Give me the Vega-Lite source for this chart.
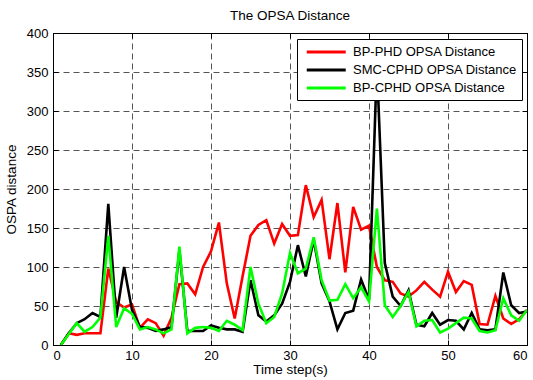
{
  "$schema": "https://vega.github.io/schema/vega-lite/v6.json",
  "width": 474,
  "height": 312,
  "autosize": {"type": "none"},
  "padding": {"left": 53, "top": 33, "right": 6, "bottom": 35},
  "background": "white",
  "title": {"text": "The OPSA Distance", "font": "Liberation Sans", "fontSize": 13.5, "fontWeight": "normal", "color": "black", "anchor": "middle", "offset": 5},
  "config": {
    "view": {"stroke": "black", "strokeWidth": 1},
    "axis": {"labelFont": "Liberation Sans", "labelFontSize": 13, "labelColor": "black", "titleFont": "Liberation Sans", "titleFontSize": 13.5, "titleFontWeight": "normal", "titleColor": "black", "domainColor": "black", "tickColor": "black", "gridColor": "#555555", "gridDash": [6, 4], "gridWidth": 1, "gridOpacity": 1}
  },
  "datasets": {
    "d": [
      {"t": 1, "v": 0, "s": "BP-PHD OPSA Distance"},
      {"t": 2, "v": 15, "s": "BP-PHD OPSA Distance"},
      {"t": 3, "v": 13, "s": "BP-PHD OPSA Distance"},
      {"t": 4, "v": 15, "s": "BP-PHD OPSA Distance"},
      {"t": 5, "v": 15, "s": "BP-PHD OPSA Distance"},
      {"t": 6, "v": 15, "s": "BP-PHD OPSA Distance"},
      {"t": 7, "v": 98, "s": "BP-PHD OPSA Distance"},
      {"t": 8, "v": 55, "s": "BP-PHD OPSA Distance"},
      {"t": 9, "v": 48, "s": "BP-PHD OPSA Distance"},
      {"t": 10, "v": 52, "s": "BP-PHD OPSA Distance"},
      {"t": 11, "v": 22, "s": "BP-PHD OPSA Distance"},
      {"t": 12, "v": 33, "s": "BP-PHD OPSA Distance"},
      {"t": 13, "v": 28, "s": "BP-PHD OPSA Distance"},
      {"t": 14, "v": 12, "s": "BP-PHD OPSA Distance"},
      {"t": 15, "v": 35, "s": "BP-PHD OPSA Distance"},
      {"t": 16, "v": 78, "s": "BP-PHD OPSA Distance"},
      {"t": 17, "v": 79, "s": "BP-PHD OPSA Distance"},
      {"t": 18, "v": 65, "s": "BP-PHD OPSA Distance"},
      {"t": 19, "v": 100, "s": "BP-PHD OPSA Distance"},
      {"t": 20, "v": 120, "s": "BP-PHD OPSA Distance"},
      {"t": 21, "v": 157, "s": "BP-PHD OPSA Distance"},
      {"t": 22, "v": 79, "s": "BP-PHD OPSA Distance"},
      {"t": 23, "v": 34, "s": "BP-PHD OPSA Distance"},
      {"t": 24, "v": 88, "s": "BP-PHD OPSA Distance"},
      {"t": 25, "v": 140, "s": "BP-PHD OPSA Distance"},
      {"t": 26, "v": 154, "s": "BP-PHD OPSA Distance"},
      {"t": 27, "v": 160, "s": "BP-PHD OPSA Distance"},
      {"t": 28, "v": 130, "s": "BP-PHD OPSA Distance"},
      {"t": 29, "v": 155, "s": "BP-PHD OPSA Distance"},
      {"t": 30, "v": 140, "s": "BP-PHD OPSA Distance"},
      {"t": 31, "v": 141, "s": "BP-PHD OPSA Distance"},
      {"t": 32, "v": 205, "s": "BP-PHD OPSA Distance"},
      {"t": 33, "v": 164, "s": "BP-PHD OPSA Distance"},
      {"t": 34, "v": 186, "s": "BP-PHD OPSA Distance"},
      {"t": 35, "v": 110, "s": "BP-PHD OPSA Distance"},
      {"t": 36, "v": 182, "s": "BP-PHD OPSA Distance"},
      {"t": 37, "v": 93, "s": "BP-PHD OPSA Distance"},
      {"t": 38, "v": 177, "s": "BP-PHD OPSA Distance"},
      {"t": 39, "v": 148, "s": "BP-PHD OPSA Distance"},
      {"t": 40, "v": 153, "s": "BP-PHD OPSA Distance"},
      {"t": 41, "v": 100, "s": "BP-PHD OPSA Distance"},
      {"t": 42, "v": 83, "s": "BP-PHD OPSA Distance"},
      {"t": 43, "v": 81, "s": "BP-PHD OPSA Distance"},
      {"t": 44, "v": 66, "s": "BP-PHD OPSA Distance"},
      {"t": 45, "v": 62, "s": "BP-PHD OPSA Distance"},
      {"t": 46, "v": 70, "s": "BP-PHD OPSA Distance"},
      {"t": 47, "v": 81, "s": "BP-PHD OPSA Distance"},
      {"t": 48, "v": 71, "s": "BP-PHD OPSA Distance"},
      {"t": 49, "v": 62, "s": "BP-PHD OPSA Distance"},
      {"t": 50, "v": 94, "s": "BP-PHD OPSA Distance"},
      {"t": 51, "v": 68, "s": "BP-PHD OPSA Distance"},
      {"t": 52, "v": 82, "s": "BP-PHD OPSA Distance"},
      {"t": 53, "v": 77, "s": "BP-PHD OPSA Distance"},
      {"t": 54, "v": 27, "s": "BP-PHD OPSA Distance"},
      {"t": 55, "v": 26, "s": "BP-PHD OPSA Distance"},
      {"t": 56, "v": 63, "s": "BP-PHD OPSA Distance"},
      {"t": 57, "v": 34, "s": "BP-PHD OPSA Distance"},
      {"t": 58, "v": 27, "s": "BP-PHD OPSA Distance"},
      {"t": 59, "v": 33, "s": "BP-PHD OPSA Distance"},
      {"t": 60, "v": 45, "s": "BP-PHD OPSA Distance"},
      {"t": 1, "v": 0, "s": "SMC-CPHD OPSA Distance"},
      {"t": 2, "v": 15, "s": "SMC-CPHD OPSA Distance"},
      {"t": 3, "v": 28, "s": "SMC-CPHD OPSA Distance"},
      {"t": 4, "v": 33, "s": "SMC-CPHD OPSA Distance"},
      {"t": 5, "v": 41, "s": "SMC-CPHD OPSA Distance"},
      {"t": 6, "v": 36, "s": "SMC-CPHD OPSA Distance"},
      {"t": 7, "v": 181, "s": "SMC-CPHD OPSA Distance"},
      {"t": 8, "v": 35, "s": "SMC-CPHD OPSA Distance"},
      {"t": 9, "v": 100, "s": "SMC-CPHD OPSA Distance"},
      {"t": 10, "v": 45, "s": "SMC-CPHD OPSA Distance"},
      {"t": 11, "v": 23, "s": "SMC-CPHD OPSA Distance"},
      {"t": 12, "v": 22, "s": "SMC-CPHD OPSA Distance"},
      {"t": 13, "v": 18, "s": "SMC-CPHD OPSA Distance"},
      {"t": 14, "v": 20, "s": "SMC-CPHD OPSA Distance"},
      {"t": 15, "v": 23, "s": "SMC-CPHD OPSA Distance"},
      {"t": 16, "v": 122, "s": "SMC-CPHD OPSA Distance"},
      {"t": 17, "v": 18, "s": "SMC-CPHD OPSA Distance"},
      {"t": 18, "v": 18, "s": "SMC-CPHD OPSA Distance"},
      {"t": 19, "v": 18, "s": "SMC-CPHD OPSA Distance"},
      {"t": 20, "v": 25, "s": "SMC-CPHD OPSA Distance"},
      {"t": 21, "v": 22, "s": "SMC-CPHD OPSA Distance"},
      {"t": 22, "v": 20, "s": "SMC-CPHD OPSA Distance"},
      {"t": 23, "v": 20, "s": "SMC-CPHD OPSA Distance"},
      {"t": 24, "v": 17, "s": "SMC-CPHD OPSA Distance"},
      {"t": 25, "v": 83, "s": "SMC-CPHD OPSA Distance"},
      {"t": 26, "v": 38, "s": "SMC-CPHD OPSA Distance"},
      {"t": 27, "v": 30, "s": "SMC-CPHD OPSA Distance"},
      {"t": 28, "v": 38, "s": "SMC-CPHD OPSA Distance"},
      {"t": 29, "v": 53, "s": "SMC-CPHD OPSA Distance"},
      {"t": 30, "v": 81, "s": "SMC-CPHD OPSA Distance"},
      {"t": 31, "v": 128, "s": "SMC-CPHD OPSA Distance"},
      {"t": 32, "v": 88, "s": "SMC-CPHD OPSA Distance"},
      {"t": 33, "v": 135, "s": "SMC-CPHD OPSA Distance"},
      {"t": 34, "v": 79, "s": "SMC-CPHD OPSA Distance"},
      {"t": 35, "v": 56, "s": "SMC-CPHD OPSA Distance"},
      {"t": 36, "v": 20, "s": "SMC-CPHD OPSA Distance"},
      {"t": 37, "v": 41, "s": "SMC-CPHD OPSA Distance"},
      {"t": 38, "v": 44, "s": "SMC-CPHD OPSA Distance"},
      {"t": 39, "v": 84, "s": "SMC-CPHD OPSA Distance"},
      {"t": 40, "v": 58, "s": "SMC-CPHD OPSA Distance"},
      {"t": 41, "v": 360, "s": "SMC-CPHD OPSA Distance"},
      {"t": 42, "v": 105, "s": "SMC-CPHD OPSA Distance"},
      {"t": 43, "v": 62, "s": "SMC-CPHD OPSA Distance"},
      {"t": 44, "v": 50, "s": "SMC-CPHD OPSA Distance"},
      {"t": 45, "v": 70, "s": "SMC-CPHD OPSA Distance"},
      {"t": 46, "v": 26, "s": "SMC-CPHD OPSA Distance"},
      {"t": 47, "v": 24, "s": "SMC-CPHD OPSA Distance"},
      {"t": 48, "v": 41, "s": "SMC-CPHD OPSA Distance"},
      {"t": 49, "v": 26, "s": "SMC-CPHD OPSA Distance"},
      {"t": 50, "v": 32, "s": "SMC-CPHD OPSA Distance"},
      {"t": 51, "v": 31, "s": "SMC-CPHD OPSA Distance"},
      {"t": 52, "v": 20, "s": "SMC-CPHD OPSA Distance"},
      {"t": 53, "v": 41, "s": "SMC-CPHD OPSA Distance"},
      {"t": 54, "v": 20, "s": "SMC-CPHD OPSA Distance"},
      {"t": 55, "v": 19, "s": "SMC-CPHD OPSA Distance"},
      {"t": 56, "v": 20, "s": "SMC-CPHD OPSA Distance"},
      {"t": 57, "v": 93, "s": "SMC-CPHD OPSA Distance"},
      {"t": 58, "v": 51, "s": "SMC-CPHD OPSA Distance"},
      {"t": 59, "v": 41, "s": "SMC-CPHD OPSA Distance"},
      {"t": 60, "v": 43, "s": "SMC-CPHD OPSA Distance"},
      {"t": 1, "v": 0, "s": "BP-CPHD OPSA Distance"},
      {"t": 2, "v": 14, "s": "BP-CPHD OPSA Distance"},
      {"t": 3, "v": 28, "s": "BP-CPHD OPSA Distance"},
      {"t": 4, "v": 17, "s": "BP-CPHD OPSA Distance"},
      {"t": 5, "v": 23, "s": "BP-CPHD OPSA Distance"},
      {"t": 6, "v": 35, "s": "BP-CPHD OPSA Distance"},
      {"t": 7, "v": 140, "s": "BP-CPHD OPSA Distance"},
      {"t": 8, "v": 23, "s": "BP-CPHD OPSA Distance"},
      {"t": 9, "v": 47, "s": "BP-CPHD OPSA Distance"},
      {"t": 10, "v": 40, "s": "BP-CPHD OPSA Distance"},
      {"t": 11, "v": 20, "s": "BP-CPHD OPSA Distance"},
      {"t": 12, "v": 23, "s": "BP-CPHD OPSA Distance"},
      {"t": 13, "v": 20, "s": "BP-CPHD OPSA Distance"},
      {"t": 14, "v": 15, "s": "BP-CPHD OPSA Distance"},
      {"t": 15, "v": 20, "s": "BP-CPHD OPSA Distance"},
      {"t": 16, "v": 126, "s": "BP-CPHD OPSA Distance"},
      {"t": 17, "v": 15, "s": "BP-CPHD OPSA Distance"},
      {"t": 18, "v": 22, "s": "BP-CPHD OPSA Distance"},
      {"t": 19, "v": 23, "s": "BP-CPHD OPSA Distance"},
      {"t": 20, "v": 22, "s": "BP-CPHD OPSA Distance"},
      {"t": 21, "v": 18, "s": "BP-CPHD OPSA Distance"},
      {"t": 22, "v": 31, "s": "BP-CPHD OPSA Distance"},
      {"t": 23, "v": 26, "s": "BP-CPHD OPSA Distance"},
      {"t": 24, "v": 19, "s": "BP-CPHD OPSA Distance"},
      {"t": 25, "v": 100, "s": "BP-CPHD OPSA Distance"},
      {"t": 26, "v": 53, "s": "BP-CPHD OPSA Distance"},
      {"t": 27, "v": 28, "s": "BP-CPHD OPSA Distance"},
      {"t": 28, "v": 36, "s": "BP-CPHD OPSA Distance"},
      {"t": 29, "v": 66, "s": "BP-CPHD OPSA Distance"},
      {"t": 30, "v": 118, "s": "BP-CPHD OPSA Distance"},
      {"t": 31, "v": 92, "s": "BP-CPHD OPSA Distance"},
      {"t": 32, "v": 98, "s": "BP-CPHD OPSA Distance"},
      {"t": 33, "v": 138, "s": "BP-CPHD OPSA Distance"},
      {"t": 34, "v": 83, "s": "BP-CPHD OPSA Distance"},
      {"t": 35, "v": 57, "s": "BP-CPHD OPSA Distance"},
      {"t": 36, "v": 58, "s": "BP-CPHD OPSA Distance"},
      {"t": 37, "v": 78, "s": "BP-CPHD OPSA Distance"},
      {"t": 38, "v": 60, "s": "BP-CPHD OPSA Distance"},
      {"t": 39, "v": 74, "s": "BP-CPHD OPSA Distance"},
      {"t": 40, "v": 56, "s": "BP-CPHD OPSA Distance"},
      {"t": 41, "v": 175, "s": "BP-CPHD OPSA Distance"},
      {"t": 42, "v": 51, "s": "BP-CPHD OPSA Distance"},
      {"t": 43, "v": 36, "s": "BP-CPHD OPSA Distance"},
      {"t": 44, "v": 50, "s": "BP-CPHD OPSA Distance"},
      {"t": 45, "v": 68, "s": "BP-CPHD OPSA Distance"},
      {"t": 46, "v": 24, "s": "BP-CPHD OPSA Distance"},
      {"t": 47, "v": 31, "s": "BP-CPHD OPSA Distance"},
      {"t": 48, "v": 32, "s": "BP-CPHD OPSA Distance"},
      {"t": 49, "v": 16, "s": "BP-CPHD OPSA Distance"},
      {"t": 50, "v": 21, "s": "BP-CPHD OPSA Distance"},
      {"t": 51, "v": 28, "s": "BP-CPHD OPSA Distance"},
      {"t": 52, "v": 35, "s": "BP-CPHD OPSA Distance"},
      {"t": 53, "v": 34, "s": "BP-CPHD OPSA Distance"},
      {"t": 54, "v": 18, "s": "BP-CPHD OPSA Distance"},
      {"t": 55, "v": 16, "s": "BP-CPHD OPSA Distance"},
      {"t": 56, "v": 19, "s": "BP-CPHD OPSA Distance"},
      {"t": 57, "v": 60, "s": "BP-CPHD OPSA Distance"},
      {"t": 58, "v": 38, "s": "BP-CPHD OPSA Distance"},
      {"t": 59, "v": 31, "s": "BP-CPHD OPSA Distance"},
      {"t": 60, "v": 45, "s": "BP-CPHD OPSA Distance"}
    ]
  },
  "data": {"name": "d"},
  "layer": [
    {
      "mark": {"type": "line", "strokeWidth": 2.6, "clip": true},
      "encoding": {
        "x": {"field": "t", "type": "quantitative", "scale": {"domain": [0, 60], "nice": false}, "axis": {"values": [0, 10, 20, 30, 40, 50, 60], "title": "Time step(s)", "grid": true, "tickSize": -5, "labelPadding": 9, "titlePadding": 0}},
        "y": {"field": "v", "type": "quantitative", "scale": {"domain": [0, 400], "nice": false}, "axis": {"values": [0, 50, 100, 150, 200, 250, 300, 350, 400], "title": "OSPA distance", "grid": true, "tickSize": -5, "labelPadding": 10, "titlePadding": 8}},
        "color": {"field": "s", "type": "nominal", "sort": null, "scale": {"domain": ["BP-PHD OPSA Distance", "SMC-CPHD OPSA Distance", "BP-CPHD OPSA Distance"], "range": ["#ff0000", "#000000", "#00ff00"]}, "legend": {"title": null, "orient": "none", "legendX": 244, "legendY": 6, "symbolType": "M-0.5,0H5.5", "symbolSize": 169, "symbolStrokeWidth": 3, "labelOffset": 35, "labelFont": "Liberation Sans", "labelFontSize": 13, "labelColor": "black", "labelLimit": 400, "padding": 5, "rowPadding": 3, "strokeColor": "black", "fillColor": "white", "cornerRadius": 0}}
      }
    },
    {
      "mark": {"type": "line", "strokeOpacity": 0},
      "encoding": {
        "x": {"field": "t", "type": "quantitative", "scale": {"domain": [0, 60], "nice": false}, "axis": {"orient": "top", "values": [0, 10, 20, 30, 40, 50, 60], "title": null, "labels": false, "grid": false, "tickSize": -5}},
        "y": {"field": "v", "type": "quantitative", "scale": {"domain": [0, 400], "nice": false}, "axis": {"orient": "right", "values": [0, 50, 100, 150, 200, 250, 300, 350, 400], "title": null, "labels": false, "grid": false, "tickSize": -5}},
        "detail": {"field": "s", "type": "nominal"}
      }
    }
  ],
  "resolve": {"axis": {"x": "independent", "y": "independent"}}
}
